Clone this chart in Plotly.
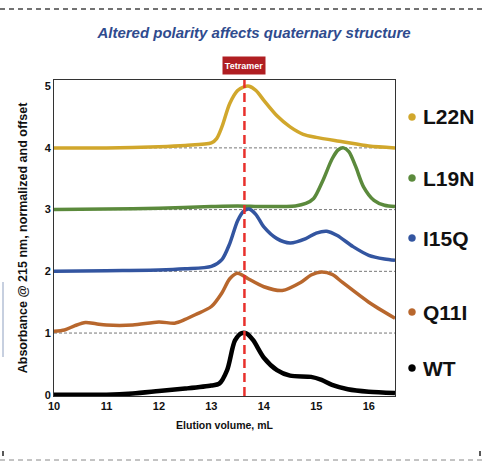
import plotly.graph_objects as go

# ---- data (elution volume mL, absorbance normalized + offset) ----
wt_x = [10.0, 10.5, 11.0, 11.5, 12.0, 12.5, 13.0, 13.15, 13.3, 13.45, 13.58, 13.68, 13.8, 14.0, 14.25, 14.5, 14.9, 15.1, 15.3, 15.6, 16.0, 16.5]
wt_y = [0.0, 0.0, 0.0, 0.02, 0.06, 0.1, 0.15, 0.18, 0.4, 0.88, 1.0, 0.99, 0.88, 0.6, 0.4, 0.31, 0.29, 0.24, 0.16, 0.09, 0.05, 0.03]

q11i_x = [10.0, 10.2, 10.4, 10.6, 10.8, 11.0, 11.5, 12.0, 12.3, 12.5, 12.7, 13.0, 13.2, 13.35, 13.5, 13.7, 14.0, 14.35, 14.7, 14.9, 15.1, 15.3, 15.5, 16.0, 16.5]
q11i_y = [1.03, 1.05, 1.12, 1.17, 1.15, 1.13, 1.13, 1.18, 1.16, 1.22, 1.3, 1.43, 1.65, 1.88, 1.97, 1.88, 1.75, 1.69, 1.82, 1.94, 1.99, 1.95, 1.82, 1.5, 1.24]

i15q_x = [10.0, 11.0, 12.0, 12.5, 13.0, 13.2, 13.35, 13.5, 13.62, 13.72, 13.85, 14.0, 14.25, 14.5, 14.8, 15.0, 15.2, 15.4, 15.7, 16.0, 16.3, 16.5]
i15q_y = [2.0, 2.01, 2.02, 2.04, 2.08, 2.19, 2.45, 2.82, 2.98, 3.01, 2.92, 2.72, 2.53, 2.46, 2.53, 2.62, 2.65, 2.58, 2.4, 2.26, 2.2, 2.18]

l19n_x = [10.0, 11.0, 12.0, 13.0, 13.5, 14.0, 14.6, 14.8, 14.95, 15.13, 15.3, 15.42, 15.52, 15.62, 15.75, 15.9, 16.1, 16.3, 16.5]
l19n_y = [3.0, 3.01, 3.02, 3.05, 3.06, 3.05, 3.06, 3.1, 3.18, 3.48, 3.82, 3.97, 4.0, 3.94, 3.7, 3.37, 3.15, 3.07, 3.05]

l22n_x = [10.0, 11.0, 12.0, 12.5, 13.0, 13.1, 13.2, 13.35, 13.5, 13.62, 13.72, 13.85, 14.0, 14.25, 14.5, 14.75, 15.0, 15.5, 16.0, 16.5]
l22n_y = [4.0, 4.0, 4.02, 4.04, 4.08, 4.15, 4.34, 4.72, 4.93, 4.99, 5.0, 4.93, 4.77, 4.52, 4.34, 4.22, 4.17, 4.1, 4.03, 4.0]

series_names = ["L22N", "L19N", "I15Q", "Q11I", "WT"]
series_colors = ["#d1a72c", "#5b8a3c", "#3355a0", "#b8672d", "#000000"]
series_x = [l22n_x, l19n_x, i15q_x, q11i_x, wt_x]
series_y = [l22n_y, l19n_y, i15q_y, q11i_y, wt_y]
offset_levels = [1, 2, 3, 4]
tetramer_x = 13.63
x_ticks = [10, 11, 12, 13, 14, 15, 16]
y_ticks = [0, 1, 2, 3, 4, 5]

FONT = "Liberation Sans, Arial, sans-serif"

fig = go.Figure()

# offset baselines (gray dashed)
for lv in offset_levels:
    fig.add_shape(type="line", xref="x", yref="y", x0=10, x1=16.5, y0=lv, y1=lv,
                  line=dict(color="#777777", width=1, dash="3px,2px"), layer="below")

widths = [3.5, 3.5, 3.5, 3.5, 4.5]
for name, col, xs, ys, w in zip(series_names, series_colors, series_x, series_y, widths):
    fig.add_trace(go.Scatter(x=xs, y=ys, mode="lines", name=name,
                             line=dict(color=col, width=w, shape="spline", smoothing=0.8),
                             showlegend=False))

# tetramer line
fig.add_shape(type="line", xref="x", yref="paper", x0=tetramer_x, x1=tetramer_x, y0=0, y1=1,
              line=dict(color="#e8302c", width=2.5, dash="9px,5px"))
fig.add_annotation(x=tetramer_x, xref="x", y=(396 - 65.5) / 316, yref="paper", yanchor="middle",
                   text="<b>Tetramer</b>", showarrow=False,
                   font=dict(family=FONT, size=9, color="white"),
                   bgcolor="#b01e22", borderpad=0, width=42, height=17)


def px_x(p):
    return (p - 54) / 341


def px_y(p):
    return (396 - p) / 316


# legend as annotations
leg_y = [117, 178, 238, 312, 368]
for name, col, py in zip(series_names, series_colors, leg_y):
    yp = px_y(py)
    fig.add_shape(type="circle", xref="paper", yref="paper",
                  x0=px_x(408.5), x1=px_x(415.5), y0=yp - 3.5 / 316, y1=yp + 3.5 / 316,
                  fillcolor=col, line=dict(color=col, width=0.5))
    fig.add_annotation(x=px_x(421), y=yp, xref="paper", yref="paper", text="<b>" + name + "</b>",
                       xanchor="left", yanchor="middle", showarrow=False,
                       font=dict(family=FONT, size=21, color="#111111"))

# page border artifacts
fig.add_shape(type="line", xref="paper", yref="paper", x0=px_x(0), x1=px_x(484), y0=px_y(9), y1=px_y(9),
              line=dict(color="#444444", width=1.3, dash="5px,4px"))
fig.add_shape(type="line", xref="paper", yref="paper", x0=px_x(0), x1=px_x(484), y0=px_y(460), y1=px_y(460),
              line=dict(color="#888888", width=1, dash="5px,4px"))
fig.add_shape(type="line", xref="paper", yref="paper", x0=px_x(3), x1=px_x(3), y0=px_y(282), y1=px_y(357),
              line=dict(color="#8fa0c0", width=1))
fig.add_shape(type="line", xref="paper", yref="paper", x0=px_x(3), x1=px_x(3), y0=px_y(451), y1=px_y(456),
              line=dict(color="#222222", width=1.5))
fig.add_shape(type="line", xref="paper", yref="paper", x0=px_x(480), x1=px_x(480), y0=px_y(451), y1=px_y(456),
              line=dict(color="#222222", width=1.5))

fig.update_layout(
    width=484, height=462,
    margin=dict(l=54, r=89, t=80, b=66),
    paper_bgcolor="white", plot_bgcolor="white",
    title=dict(text="<b><i>Altered polarity affects quaternary structure</i></b>",
               x=(254 / 484), xanchor="center", y=1 - 33 / 462, yanchor="middle",
               font=dict(family=FONT, size=15, color="#2f4b8e")),
    xaxis=dict(range=[10, 16.5], tickvals=x_ticks, ticktext=["<b>%d</b>" % v for v in x_ticks],
               showgrid=False, zeroline=False, showline=True, mirror=True, linecolor="#333333", linewidth=1,
               ticks="", tickfont=dict(family=FONT, size=11, color="#111111"),
               title=dict(text="<b>Elution volume, mL</b>", standoff=10,
                          font=dict(family=FONT, size=10.5, color="#111111"))),
    yaxis=dict(range=[-0.02, 5.1], tickvals=y_ticks, ticktext=["<b>%d</b>" % v for v in y_ticks],
               showgrid=False, zeroline=False, showline=True, mirror=True, linecolor="#333333", linewidth=1,
               ticks="", tickfont=dict(family=FONT, size=11, color="#111111"),
               title=dict(text="<b>Absorbance @ 215 nm, normalized and offset</b>", standoff=14,
                          font=dict(family=FONT, size=12.5, color="#111111"))),
)

fig.write_html("out.html", config={"displayModeBar": False},
               post_script="document.body.style.margin='0';")
